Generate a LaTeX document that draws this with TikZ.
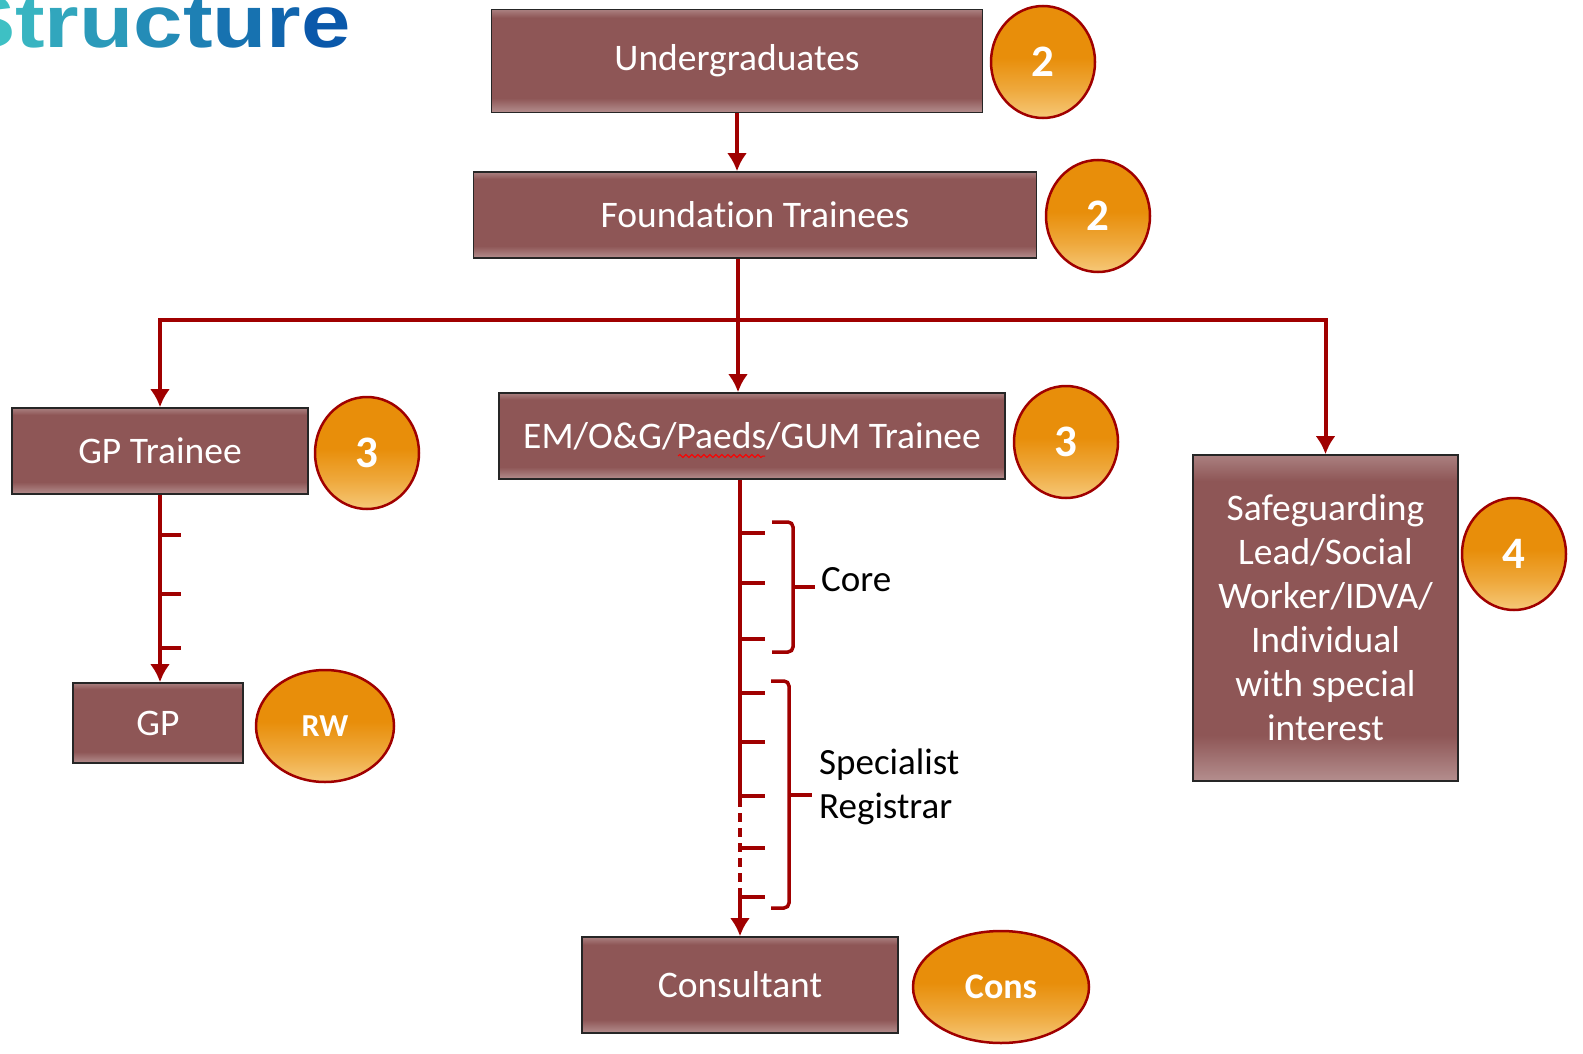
\documentclass[tikz,border=0pt]{standalone}
\usepackage{fontspec}
\setmainfont{Carlito}[Ligatures=NoCommon]
\newfontfamily\titlefont[FakeStretch=1.2]{Liberation Sans}
\usetikzlibrary{arrows.meta,shapes.geometric,decorations.pathmorphing}

\definecolor{boxred}{RGB}{142,86,86}
\definecolor{boxlight}{RGB}{180,142,142}
\definecolor{linered}{RGB}{160,0,0}
\definecolor{badgeorange}{RGB}{232,142,10}
\definecolor{badgelight}{RGB}{246,200,120}
\definecolor{titleA}{RGB}{62,192,196}
\definecolor{titleB}{RGB}{10,88,170}

\pgfdeclareverticalshading{boxshade}{100bp}{color(0bp)=(boxlight); color(25bp)=(boxlight); color(32bp)=(boxred); color(71bp)=(boxred); color(75bp)=(boxred!75!white); color(100bp)=(boxred!75!white)}
\pgfdeclareverticalshading{badgeshade}{100bp}{color(0bp)=(badgelight); color(25bp)=(badgelight); color(38bp)=(badgeorange!55!badgelight); color(52bp)=(badgeorange); color(100bp)=(badgeorange)}

\tikzset{
  stagebox/.style={draw=black!85, line width=1.6pt, shading=boxshade, text=white, inner sep=0pt, align=center, font=\fontsize{37.5}{44}\selectfont},
  badge/.style={ellipse, draw=linered, line width=2.5pt, shading=badgeshade, text=white, inner sep=0pt, minimum width=104pt, minimum height=112pt, font=\bfseries\fontsize{45}{45}\selectfont},
  flow/.style={draw=linered, line width=4pt, -{Latex[length=18pt,width=20pt]}},
  tick/.style={draw=linered, line width=4pt},
  brace/.style={draw=linered, line width=3.5pt, rounded corners=5pt},
  stagelabel/.style={anchor=west, inner sep=0pt, align=left, font=\fontsize{37}{44}\selectfont},
}

\begin{document}
\begin{tikzpicture}[x=1pt, y=-1pt]

    \useasboundingbox (0,0) rectangle (1583,1054);
    \clip (0,0) rectangle (1583,1054);

    %Titel
    \node[anchor=base west, inner sep=0pt, font=\titlefont\bfseries\fontsize{74}{74}\selectfont] (title) at (-44,48)
        {\color{titleA}S\color{titleB!12!titleA}t\color{titleB!25!titleA}r\color{titleB!37!titleA}u\color{titleB!50!titleA}c\color{titleB!62!titleA}t\color{titleB!75!titleA}u\color{titleB!87!titleA}r\color{titleB}e};

    %Stufen
    \node[stagebox, minimum width=491pt, minimum height=103pt] (ug) at (737,61) {Undergraduates};
    \node[badge] (ugb) at (1043,62) {2};

    \node[stagebox, minimum width=563pt, minimum height=86pt] (found) at (755,215) {Foundation Trainees};
    \node[badge] (foundb) at (1098,216) {2};

    \node[stagebox, minimum width=296pt, minimum height=86pt] (gpt) at (160,451) {GP Trainee};
    \node[badge] (gptb) at (367,453) {3};

    \node[stagebox, minimum width=506pt, minimum height=86pt] (em) at (752,436) {EM/O\&G/Paeds/GUM Trainee};
    \node[badge] (emb) at (1066,442) {3};

    \node[stagebox, minimum width=265pt, minimum height=326pt] (safe) at (1325.5,618) {Safeguarding\\Lead/Social\\Worker/IDVA/\\Individual\\with special\\interest};
    \node[badge] (safeb) at (1514,554) {4};

    \node[stagebox, minimum width=170pt, minimum height=80pt] (gp) at (158,723) {GP};
    \node[badge, minimum width=138pt, font=\bfseries\fontsize{32}{32}\selectfont] (gpb) at (325,726) {RW};

    \node[stagebox, minimum width=316pt, minimum height=96pt] (cons) at (740,985) {Consultant};
    \node[badge, minimum width=176pt, font=\bfseries\fontsize{36}{36}\selectfont] (consb) at (1001,987) {Cons};

    %Rechtschreibmarke
    \draw[red, line width=1pt, decorate, decoration={snake, amplitude=1.5pt, segment length=6pt}] (678,456) -- (765,456);

    %Verbindungen oben
    \draw[flow] (ug.south) -- (ug.south |- found.north);
    \coordinate (split) at (738,320);
    \draw[tick] (split |- found.south) -- (split);
    \draw[flow] (split) -| (gpt.north);
    \draw[flow] (split) -| (safe.north);
    \draw[flow] (split) -- (split |- em.north);

    %GP Weg
    \draw[flow] (gpt.south) -- (gpt.south |- gp.north);
    \foreach \y in {535,594,648}
        \draw[tick] (160,\y) -- ++(21,0);

    %Facharzt Weg
    \coordinate (emtop) at (cons.north |- em.south);
    \draw[tick] (emtop) -- (740,798);
    \draw[tick, dash pattern=on 9pt off 6pt] (740,798) -- (740,893);
    \draw[flow] (740,893) -- (cons.north);
    \foreach \y in {533,583,639,693,742,796,848,897}
        \draw[tick] (740,\y) -- ++(25,0);

    %Klammern
    \draw[brace] (772,522) -- (793,522) -- (793,652) -- (772,652);
    \draw[brace] (793,587) -- (815,587);
    \node[stagelabel] (core) at (821,580) {Core};

    \draw[brace] (771,681) -- (789,681) -- (789,908) -- (771,908);
    \draw[brace] (789,795) -- (812,795);
    \node[stagelabel] (spr) at (819,787) {Specialist\\Registrar};

\end{tikzpicture}
\end{document}
